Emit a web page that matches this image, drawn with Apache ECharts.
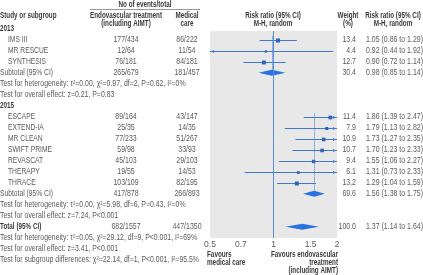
<!DOCTYPE html>
<html>
<head>
<meta charset="utf-8">
<script src="https://cdn.jsdelivr.net/npm/echarts@6/dist/echarts.min.js"></script>
<style>html,body{margin:0;padding:0;background:#fff}#c{width:423px;height:275px}</style>
</head>
<body>
<div id="c"></div>
<script>
var FONT = '"Liberation Sans",sans-serif';
var FS = 8.5;

// studies
var studies  = ['IMS III','MR RESCUE','SYNTHESIS','ESCAPE','EXTEND-IA','MR CLEAN','SWIFT PRIME','REVASCAT','THERAPY','THRACE'];
var studyRow = [1,2,3,8,9,10,11,12,13,14];
var evtTreat = ['177/434','12/64','76/181','89/164','25/35','77/233','59/98','45/103','19/55','103/109'];
var evtMed   = ['86/222','11/54','84/181','43/147','14/35','51/267','33/93','29/103','14/53','82/195'];
var weight   = [13.4,4.4,12.7,11.4,7.9,10.9,10.7,9.4,6.1,13.2];
var rr       = [1.05,0.92,0.90,1.86,1.79,1.73,1.70,1.55,1.31,1.29];
var rrLo     = [0.86,0.44,0.72,1.39,1.13,1.27,1.23,1.06,0.73,1.04];
var rrHi     = [1.29,1.92,1.14,2.47,2.82,2.35,2.33,2.27,2.33,1.59];

// subtotals + total
var subNames = ['Subtotal (95% CI)','Subtotal (95% CI)','Total (95% CI)'];
var subRow   = [4,15,18];
var subTreat = ['265/679','417/878','682/1557'];
var subMed   = ['181/457','266/893','447/1350'];
var subW     = ['30.4','69.6','100.0'];
var subRR    = [0.98,1.56,1.37];
var subLo    = [0.85,1.38,1.14];
var subHi    = [1.14,1.75,1.64];
var subLineFrom = [0.7,7.7]; // dotted subgroup lines start

// year headers and test lines
var groupNames = ['2013','2015'];
var groupRow   = [0,7];
var notes = [
  [5,'Test for heterogeneity: τ²=0.00, χ²=0.97, df=2, P=0.62, I²=0%'],
  [6,'Test for overall effect: z=0.21, P=0.83'],
  [16,'Test for heterogeneity: τ²=0.00, χ²=5.98, df=6, P=0.43, I²=0%'],
  [17,'Test for overall effect: z=7.24, P<0.001'],
  [19,'Test for heterogeneity: τ²=0.05, χ²=29.12, df=9, P<0.001, I²=69%'],
  [20,'Test for overall effect: z=3.41, P<0.001'],
  [21,'Test for subgroup differences: χ²=22.14, df=1, P<0.001, I²=95.5%']
];
var tickVals = [0.5,0.7,1,1.5,2];

var TXT = '#5a5a5a', HEAD = '#3a3a3a', BLUE = '#3f78cf', DIA = '#2a72e0';
var XMIN = 0.5, XMAX = 2;

// horizontal squeeze per text kind, so the wide fallback face matches the narrow original
var mctx = document.createElement('canvas').getContext('2d');
function squeeze(sample, target, bold){
  mctx.font = (bold ? 'bold ' : '') + FS + 'px ' + FONT;
  return target / mctx.measureText(sample).width;
}
var SX = {
  note: squeeze(notes[6][1], 199, false),
  name: squeeze('Subtotal (95% CI)', 53, false),
  num:  squeeze('1.05 (0.86 to 1.29)', 57, false),
  bold: squeeze('Endovascular treatment', 72, true)
};

function fmt(v){ return v.toFixed(2); }

// table cells
var cells = [];
function cell(x,row,text,align,kind,bold){ cells.push({x:x,row:row,text:text,align:align,kind:kind,bold:bold}); }
groupNames.forEach(function(g,i){ cell(0,groupRow[i],g,'left','bold',true); });
studies.forEach(function(s,i){
  var r = studyRow[i];
  cell(8,r,s,'left','name');
  cell(126,r,evtTreat[i],'center','num');
  cell(187,r,evtMed[i],'center','num');
  cell(356,r,weight[i].toFixed(1),'right','num');
  cell(366,r,fmt(rr[i])+' ('+fmt(rrLo[i])+' to '+fmt(rrHi[i])+')','left','num');
});
subNames.forEach(function(s,i){
  var r = subRow[i];
  cell(0,r,s,'left',i===2?'bold':'name',i===2);
  cell(126,r,subTreat[i],'center','num');
  cell(187,r,subMed[i],'center','num');
  cell(356,r,subW[i],'right','num');
  cell(366,r,fmt(subRR[i])+' ('+fmt(subLo[i])+' to '+fmt(subHi[i])+')','left','num');
});
notes.forEach(function(n){ cell(0,n[0],n[1],'left','note'); });

var chart = echarts.init(document.getElementById('c'));

function htext(x,y,t,align){
  return {type:'text',x:x,y:y,scaleX:SX.bold,style:{text:t,align:align,verticalAlign:'middle',fill:HEAD,font:'bold '+FS+'px '+FONT}};
}

var option = {
  animation:false,
  grid:[
    {left:210,top:31,width:127,height:207,show:true,backgroundColor:'#e8e8e8',borderWidth:0},
    {left:0,top:0,width:423,height:275}
  ],
  xAxis:[
    {gridIndex:0,type:'log',logBase:2,min:XMIN,max:XMAX,
     axisLine:{show:false},axisTick:{show:false},splitLine:{show:false},
     axisLabel:{customValues:tickVals,margin:2,color:TXT,fontSize:FS,fontFamily:FONT,
       formatter:function(v){ return String(Math.round(v*10)/10); }}},
    {gridIndex:1,type:'value',min:0,max:423,show:false}
  ],
  yAxis:[
    {gridIndex:0,type:'value',inverse:true,min:(31-28.7)/11,max:(238-28.7)/11,show:false},
    {gridIndex:1,type:'value',inverse:true,min:-28.7/11,max:(275-28.7)/11,show:false}
  ],
  graphic:[
    htext(145,4.5,'No of events/total','center'),
    {type:'line',shape:{x1:90,y1:9.5,x2:200,y2:9.5},style:{stroke:'#999',lineWidth:1}},
    htext(0,15.3,'Study or subgroup','left'),
    htext(126,15.3,'Endovascular treatment','center'),
    htext(126,23.3,'(including AIMT)','center'),
    htext(187,15.3,'Medical','center'),
    htext(187,23.3,'care','center'),
    htext(273,15.3,'Risk ratio (95% CI)','center'),
    htext(273,23.3,'M-H, random','center'),
    htext(348,15.3,'Weight','center'),
    htext(348,23.3,'(%)','center'),
    htext(393,15.3,'Risk ratio (95% CI)','center'),
    htext(393,23.3,'M-H, random','center'),
    htext(207,254.3,'Favours','left'),
    htext(207,262.3,'medical care','left'),
    htext(338,254.3,'Favours endovascular','right'),
    htext(338,262.3,'treatment','right'),
    htext(338,270.3,'(including AIMT)','right')
  ],
  series:[
    // study CIs and squares
    {
      type:'custom',xAxisIndex:0,yAxisIndex:0,clip:false,
      encode:{x:[0,1,2],y:3},
      data:studies.map(function(s,i){ return [rrLo[i],rrHi[i],rr[i],studyRow[i],weight[i]]; }),
      markLine:{silent:true,symbol:['none','none'],label:{show:false},
        lineStyle:{color:'#5a8ddb',width:1,type:'solid'},data:[{xAxis:1}]},
      renderItem:function(params,api){
        var lo = api.value(0), hi = api.value(1), est = api.value(2), r = api.value(3), w = api.value(4);
        var a = api.coord([Math.max(lo,XMIN),r]), b = api.coord([Math.min(hi,XMAX),r]);
        var c = api.coord([est,r]);
        var y = Math.round(c[1])+0.5;
        var s = 1.1*Math.sqrt(w);
        var ch = [
          {type:'line',shape:{x1:a[0],y1:y,x2:b[0],y2:y},style:{stroke:BLUE,lineWidth:1}},
          {type:'rect',shape:{x:c[0]-s/2,y:y-s/2,width:s,height:s},style:{fill:'#2d62b8'}}
        ];
        if (lo < XMIN) ch.push({type:'polygon',shape:{points:[[a[0]+1,y],[a[0]+4,y-1.5],[a[0]+4,y+1.5]]},style:{fill:BLUE}});
        if (hi > XMAX) ch.push({type:'polygon',shape:{points:[[b[0]-1,y],[b[0]-4,y-1.5],[b[0]-4,y+1.5]]},style:{fill:BLUE}});
        return {type:'group',children:ch};
      }
    },
    // dotted subgroup lines
    {
      type:'custom',xAxisIndex:0,yAxisIndex:0,clip:false,
      encode:{x:0,y:[1,2]},
      data:subLineFrom.map(function(f,i){ return [subRR[i],f,subRow[i]]; }),
      renderItem:function(params,api){
        var a = api.coord([api.value(0),api.value(1)]), b = api.coord([api.value(0),api.value(2)]);
        var x = Math.round(a[0])+0.5;
        return {type:'line',shape:{x1:x,y1:a[1],x2:x,y2:b[1]},style:{stroke:BLUE,lineWidth:1,lineDash:[1,1]}};
      }
    },
    // diamonds
    {
      type:'custom',xAxisIndex:0,yAxisIndex:0,clip:false,
      encode:{x:[0,1,2],y:3},
      data:subNames.map(function(s,i){ return [subLo[i],subHi[i],subRR[i],subRow[i]]; }),
      renderItem:function(params,api){
        var r = api.value(3);
        var a = api.coord([api.value(0),r]), b = api.coord([api.value(1),r]), c = api.coord([api.value(2),r]);
        var h = 3;
        return {type:'polygon',shape:{points:[[a[0],c[1]],[c[0],c[1]-h],[b[0],c[1]],[c[0],c[1]+h]]},style:{fill:DIA}};
      }
    },
    // table text
    {
      type:'custom',xAxisIndex:1,yAxisIndex:1,clip:false,
      encode:{x:0,y:1},
      data:cells.map(function(c){ return [c.x,c.row]; }),
      renderItem:function(params,api){
        var c = cells[params.dataIndex];
        var p = api.coord([c.x,c.row]);
        return {type:'text',x:p[0],y:p[1],scaleX:SX[c.kind],style:{text:c.text,align:c.align,verticalAlign:'middle',
          fill:c.bold?HEAD:TXT,font:(c.bold?'bold ':'')+FS+'px '+FONT}};
      }
    }
  ]
};
chart.setOption(option);
</script>
</body>
</html>
